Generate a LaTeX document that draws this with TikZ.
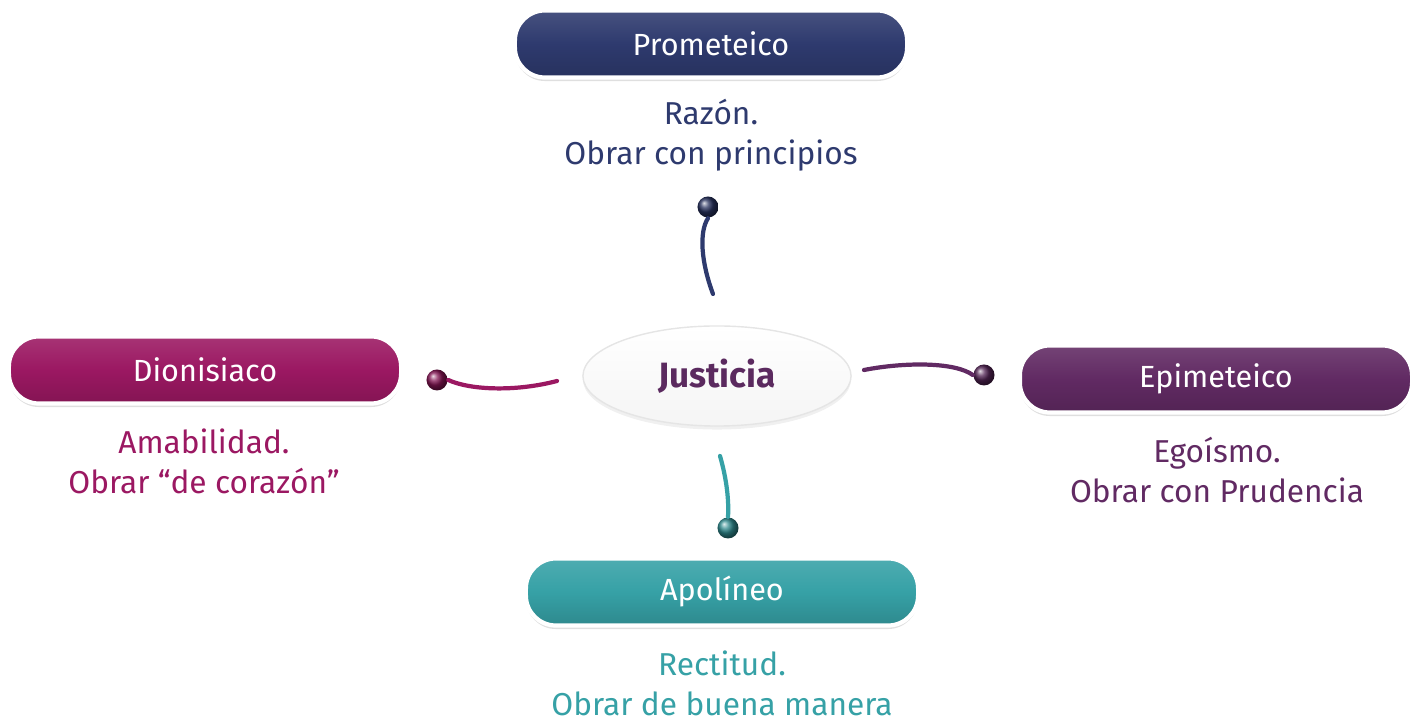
\documentclass[tikz,border=0pt]{standalone}
\usepackage{fontspec}
\setmainfont{Fira Sans}
\usetikzlibrary{shadows,shapes.geometric}
\definecolor{prom}{HTML}{2E3A6E}
\definecolor{dion}{HTML}{9B1862}
\definecolor{epim}{HTML}{612A63}
\definecolor{apol}{HTML}{36A1A6}
\definecolor{just}{HTML}{5B2A5F}

\begin{document}
\begin{tikzpicture}[x=0.01cm,y=-0.01cm,
  pill/.style={draw=white,line width=1.2pt,rounded corners=0.3cm,
    minimum width=3.92cm,minimum height=0.67cm,
    top color=#1!88!white,bottom color=#1!85!black,middle color=#1,
    text=white,font=\fontsize{8.7}{11}\selectfont,
    drop shadow={shadow xshift=0pt,shadow yshift=-1pt,opacity=0.25}},
  desc/.style={align=center,text=#1,font=\fontsize{9}{11.4}\selectfont},
  knob/.style={circle,inner sep=0pt,minimum size=0.21cm,ball color=#1!85!black},
  stem/.style={draw=#1,line width=1.2pt,line cap=round}]
  \useasboundingbox (0,0) rectangle (1423,719);

  % centre
  \node[ellipse,minimum width=2.68cm,minimum height=1.0cm,draw=black!10,
        top color=white,bottom color=black!4,
        drop shadow={shadow xshift=0pt,shadow yshift=-1pt,opacity=0.12},
        text=just,font=\fontsize{10}{12}\selectfont\bfseries] (justicia) at (717,376) {Justicia};

  % boxes
  \node[pill=prom] (prometeico) at (711,44) {Prometeico};
  \node[pill=dion] (dionisiaco) at (205,370) {Dionisiaco};
  \node[pill=epim] (epimeteico) at (1216,379) {Epimeteico};
  \node[pill=apol] (apolineo) at (722,592) {Apolíneo};

  % descriptions
  \node[desc=prom] (razon) at (711,135) {Razón.\\Obrar con principios};
  \node[desc=dion] (amabilidad) at (204,461) {Amabilidad.\\Obrar “de corazón”};
  \node[desc=epim] (egoismo) at (1217,470) {Egoísmo.\\Obrar con Prudencia};
  \node[desc=apol] (rectitud) at (722,683) {Rectitud.\\Obrar de buena manera};

  % connectors
  \coordinate (topstart) at (713,294);
  \coordinate (leftstart) at (557,381);
  \coordinate (rightstart) at (864,370);
  \coordinate (botstart) at (720,456);
  \node[knob=prom] (topknob) at (708,207) {};
  \node[knob=dion] (leftknob) at (437,380) {};
  \node[knob=epim] (rightknob) at (984,375) {};
  \node[knob=apol] (botknob) at (728,528) {};
  \draw[stem=prom] (topstart) .. controls (701,262) and (699,232) .. (topknob.south);
  \draw[stem=dion] (leftstart) .. controls (515,392) and (470,390) .. (leftknob.east);
  \draw[stem=epim] (rightstart) .. controls (905,362) and (955,362) .. (rightknob.west);
  \draw[stem=apol] (botstart) .. controls (727,480) and (729,502) .. (botknob.north);
\end{tikzpicture}
\end{document}
